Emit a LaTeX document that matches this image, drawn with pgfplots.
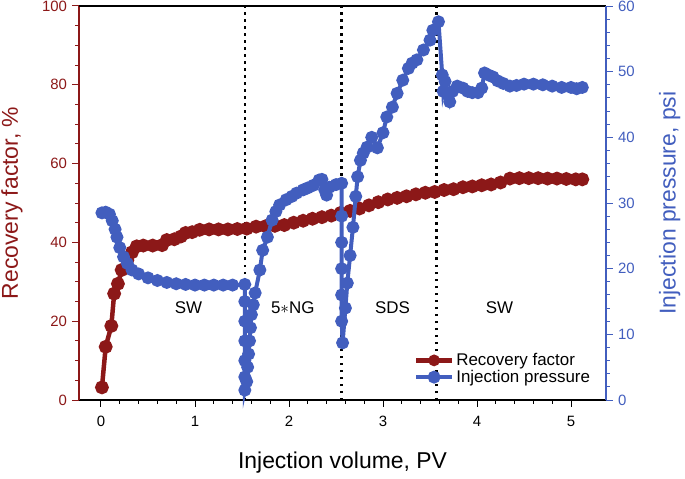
\documentclass[border=0pt]{standalone}
\usepackage{pgfplots}
\pgfplotsset{compat=1.18}
\usepackage{fontspec}
\setmainfont{Liberation Sans}
\definecolor{rf}{RGB}{140,24,24}
\definecolor{ip}{RGB}{66,94,190}
\begin{document}
\begin{tikzpicture}
\pgfplotsset{
  common/.style={
    scale only axis, width=527bp, height=394bp,
    at={(0,0)}, anchor=south west,
    xmin=-0.234, xmax=5.372,
    /pgf/number format/assume math mode=true,
    tick align=outside,
    major tick length=6.5bp, minor tick length=3.5bp,
    every tick/.style={line width=1bp},
    every minor tick/.style={line width=0.9bp},
    axis line style={line width=1.2bp},
    ticklabel style={font=\fontsize{15}{18}\selectfont},
    clip=false,
  }
}
\begin{axis}[common,
  ymin=0, ymax=100,
  axis x line*=bottom, axis y line*=left,
  xtick={0,1,2,3,4,5}, minor x tick num=4,
  ytick={0,20,40,60,80,100}, minor y tick num=3,
  x axis line style={black},
  y axis line style={rf},
  ytick style={rf}, every minor y tick/.style={rf,line width=0.9bp},
  yticklabel style={rf, xshift=-2bp},
  xticklabel style={yshift=-6bp},
  xlabel={Injection volume, PV},
  xlabel style={font=\fontsize{23}{27}\selectfont, at={(axis description cs:0.5,-0.16)}, anchor=center},
  ylabel={Recovery factor, \%},
  ylabel style={font=\fontsize{23}{27}\selectfont, color=rf, at={(axis description cs:-0.127,0.5)}, anchor=center},
]
\addplot[black, line width=2.5bp, dash pattern=on 2.5bp off 4.5bp, forget plot] coordinates {(1.53,0) (1.53,100)};
\addplot[black, line width=2.5bp, dash pattern=on 2.5bp off 4.5bp, forget plot] coordinates {(2.56,0) (2.56,100)};
\addplot[black, line width=2.5bp, dash pattern=on 2.5bp off 4.5bp, forget plot] coordinates {(3.57,0) (3.57,100)};
\addplot[rf, line width=4.5bp, mark=*, mark size=4.6bp, mark options={solid, fill=rf, draw=rf}] coordinates {
(0.01,3.2) (0.05,13.5) (0.11,18.8) (0.14,27) (0.18,29.5) (0.22,33) (0.28,35.5) (0.33,37.5) (0.38,39)
(0.45,39.2) (0.55,39.2) (0.65,39.3) (0.70,40.6) (0.78,40.8) (0.85,41.5) (0.90,42.4) (0.97,42.6)
(1.05,43.2) (1.15,43.3) (1.25,43.3) (1.35,43.3) (1.45,43.4) (1.55,43.5) (1.65,44) (1.75,44.1)
(1.85,44.2) (1.95,44.4) (2.05,45) (2.15,45.5) (2.25,46) (2.35,46.4) (2.45,46.8) (2.55,47.5)
(2.65,48) (2.75,48.6) (2.85,49.4) (2.95,50.2) (3.05,50.9) (3.15,51.3) (3.25,51.7) (3.35,52.2)
(3.45,52.6) (3.55,52.8) (3.65,53.3) (3.75,53.5) (3.85,54) (3.95,54.2) (4.05,54.5) (4.15,54.7)
(4.25,55.2) (4.35,56.2) (4.45,56.3) (4.55,56.3) (4.65,56.3) (4.75,56.2) (4.85,56.2) (4.95,56.1)
(5.05,56) (5.12,56)
};
\node[font=\fontsize{17}{20}\selectfont] at (axis cs:0.93,23.5) {SW};
\node[font=\fontsize{17}{20}\selectfont] at (axis cs:2.04,23.5) {5$\ast$NG};
\node[font=\fontsize{17}{20}\selectfont] at (axis cs:3.10,23.5) {SDS};
\node[font=\fontsize{17}{20}\selectfont] at (axis cs:4.24,23.5) {SW};
\end{axis}
\begin{axis}[common,
  ymin=0, ymax=60,
  axis x line*=top, axis y line*=right,
  xtick=\empty,
  ytick={0,10,20,30,40,50,60}, minor y tick num=4,
  x axis line style={black},
  y axis line style={ip},
  ytick style={ip}, every minor y tick/.style={ip,line width=0.9bp},
  yticklabel style={ip, xshift=2bp},
  ylabel={Injection pressure, psi},
  ylabel style={font=\fontsize{23}{27}\selectfont, color=ip, at={(axis description cs:1.121,0.5)}, anchor=center},
  legend style={at={(axis description cs:0.635,0.035)}, anchor=south west, draw=none, fill=none,
    font=\fontsize{17}{20}\selectfont, row sep=-1bp, inner sep=0bp,
    /tikz/every even column/.append style={column sep=0bp}},
  legend cell align=left,
  legend image code/.code={\draw[mark repeat=2,mark phase=2,#1] plot coordinates {(0bp,0bp) (18bp,0bp) (36bp,0bp)};},
]
\addlegendimage{rf, line width=4.5bp, mark=*, mark size=3.5bp, mark options={solid, fill=rf, draw=rf}}
\addlegendentry{Recovery factor}
\addplot[ip, line width=4bp, mark=*, mark size=4.4bp, mark options={solid, fill=ip, draw=ip}] coordinates {
(0.01,28.5) (0.05,28.6) (0.09,28.3) (0.12,27.3) (0.15,26) (0.17,24.8) (0.20,23.2) (0.24,21.8)
(0.28,20.8) (0.33,19.8) (0.40,19.2) (0.50,18.6) (0.60,18.2) (0.70,17.9) (0.80,17.7) (0.90,17.6)
(1.00,17.5) (1.10,17.5) (1.20,17.5) (1.30,17.5) (1.40,17.5) (1.53,17.6)
(1.53,15) (1.53,12) (1.53,9) (1.53,6) (1.53,3.5) (1.53,1.5)
(1.55,2.8) (1.56,5) (1.57,7) (1.58,9) (1.59,11) (1.60,13) (1.62,14.5) (1.64,16.3) (1.69,19.8)
(1.72,22.8) (1.77,24.8) (1.82,27.4) (1.86,28.7) (1.90,29.7) (1.97,30.5) (2.03,31) (2.08,31.5)
(2.15,32) (2.20,32.3) (2.26,32.7) (2.32,33.5) (2.35,33.6) (2.38,32) (2.40,31.2) (2.43,32.4)
(2.50,32.8) (2.56,33)
(2.56,28) (2.56,24) (2.56,20) (2.56,16) (2.56,12) (2.57,8.7)
(2.60,14) (2.62,17.8) (2.65,22) (2.68,26.3) (2.71,31) (2.73,34) (2.76,36.5) (2.79,37.6)
(2.83,38.5) (2.88,40) (2.94,38.4) (3.00,40.7) (3.04,43.1) (3.10,44.6) (3.15,46.7) (3.21,48.7)
(3.27,50.5) (3.31,51.3) (3.36,51.8) (3.43,53.3) (3.50,54.8) (3.53,56.3) (3.59,57.6)
(3.63,49.5) (3.64,47) (3.66,48.5) (3.69,46.5) (3.71,45.4) (3.74,47) (3.79,47.8) (3.85,47.5)
(3.90,47) (3.95,46.8) (4.01,46.8) (4.05,47.5) (4.08,49.8) (4.12,49.5) (4.17,49.2) (4.22,48.6)
(4.28,48.2) (4.35,47.8) (4.42,47.9) (4.50,48.1) (4.60,48.1) (4.70,48) (4.80,47.8) (4.90,47.6)
(5.00,47.6) (5.06,47.4) (5.12,47.6)
};
\addlegendentry{Injection pressure}
\end{axis}
\pgfresetboundingbox
\path[use as bounding box] (-79bp,-79bp) rectangle (606bp,400bp);
\end{tikzpicture}
\end{document}
